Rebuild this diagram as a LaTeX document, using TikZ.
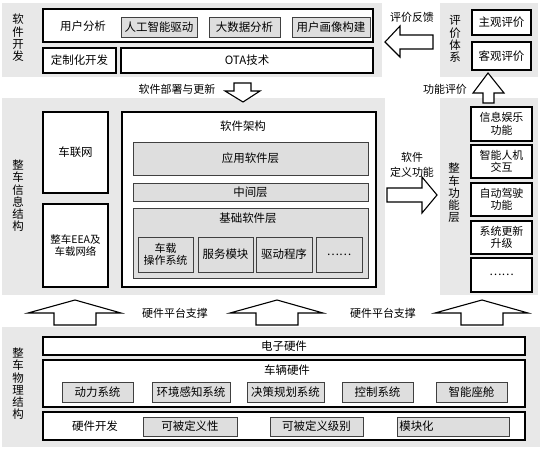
\documentclass[tikz,border=0pt]{standalone}
\usepackage{fontspec}
\setmainfont{Noto Sans CJK SC}
\usetikzlibrary{fit}
\definecolor{panelgray}{HTML}{E8E8E8}
\definecolor{boxgray}{HTML}{DEDEDE}
\begin{document}
\begin{tikzpicture}[x = 1bp, y = -1bp, % pixel units, y down
                font = \fontsize{11.5}{12}\selectfont,
                semithick % line style
            ]

            \tikzstyle{panel}=[fill = panelgray, draw = none]
            \tikzstyle{wbox}=[draw = black, line width = 1.5pt, fill = white,
            inner sep = 0pt]
            \tikzstyle{gbox}=[draw = black!75, line width = 0.8pt, fill = boxgray,
            inner sep = 0pt]
            \tikzstyle{twoline}=[align = center, font = \fontsize{11}{12.5}\selectfont]
            \tikzstyle{vlbl}=[align = center, inner sep = 0pt,
            font = \fontsize{11.5}{12.3}\selectfont]
            \tikzstyle{albl}=[inner sep = 0pt, font = \fontsize{11}{13}\selectfont,
            align = center]
            \tikzstyle{blk}=[draw = black, line width = 1.1pt, fill = white,
            line join = miter]

            \useasboundingbox (0,0) rectangle (545,455);

            % background panels
            \fill[panel] (2,3) rectangle (382,77);
            \fill[panel] (440,3) rectangle (538,77);
            \fill[panel] (2,98) rectangle (385,295);
            \fill[panel] (440,98) rectangle (538,295);
            \fill[panel] (2,327) rectangle (540,447);

            % software development (texts as centre labels: fit eats the text box)
            \node[vlbl] (rjkf) at (18,38) {软\\件\\开\\发};
            \node[wbox, fit={(43,9) (373,42)}] (row1) {};
            \node[inner sep = 0pt] (yhfx) at (83,26) {用户分析};
            \node[gbox, fit={(121,17) (197,37)}, label={center:人工智能驱动}] (rgzn) {};
            \node[gbox, fit={(209,17) (280,37)}, label={center:大数据分析}] (dsj) {};
            \node[gbox, fit={(292,17) (370,37)}, label={center:用户画像构建}] (yhhx) {};
            \node[wbox, fit={(43,48) (116,73)}, label={center:定制化开发}] (dzh) {};
            \node[wbox, fit={(121,48) (373,73)}, label={center:OTA技术}] (ota) {};

            % evaluation system
            \node[vlbl] (pjtx) at (455,39) {评\\价\\体\\系};
            \node[wbox, fit={(472,10) (531,35)}, label={center:主观评价}] (zgpj) {};
            \node[wbox, fit={(472,42) (531,70)}, label={center:客观评价}] (kgpj) {};

            % vehicle information structure
            \node[vlbl] (xxjg) at (18,196) {整\\车\\信\\息\\结\\构};
            \node[wbox, fit={(43,112) (108,193)}, label={center:车联网}] (clw) {};
            \node[wbox, fit={(43,204) (108,287)}, label={[align = center,
            font = \fontsize{10.5}{13}\selectfont]center:整车EEA及\\车载网络}] (eea) {};
            \node[wbox, fit={(122,112) (376,287)}] (rjjg) {};
            \node[inner sep = 0pt] (rjjgt) at (243,126) {软件架构};
            \node[gbox, fit={(133,142) (368,175)}, label={center:应用软件层}] (yyrj) {};
            \node[gbox, fit={(133,183) (368,201)}, label={center:中间层}] (zjc) {};
            \node[gbox, fit={(133,208) (368,278)}] (jcrj) {};
            \node[inner sep = 0pt] (jcrjt) at (248,218) {基础软件层};
            \node[gbox, fit={(138,237) (193,272)}, label={[twoline]center:车载\\操作系统}] (czxt) {};
            \node[gbox, fit={(198,237) (253,272)}, label={center:服务模块}] (fwmk) {};
            \node[gbox, fit={(256,237) (312,272)}, label={center:驱动程序}] (qdcx) {};
            \node[gbox, fit={(316,237) (362,272)}, label={center:……}] (dots1) {};

            % vehicle function layer
            \node[vlbl] (gnc) at (454,193) {整\\车\\功\\能\\层};
            \node[wbox, fit={(471,107) (532,141)}, label={[twoline]center:信息娱乐\\功能}] (xxyl) {};
            \node[wbox, fit={(471,145) (532,178)}, label={[twoline]center:智能人机\\交互}] (rjjh) {};
            \node[wbox, fit={(471,183) (532,216)}, label={[twoline]center:自动驾驶\\功能}] (zdjs) {};
            \node[wbox, fit={(471,221) (532,254)}, label={[twoline]center:系统更新\\升级}] (xtgx) {};
            \node[wbox, fit={(471,258) (532,292)}, label={center:……}] (dots2) {};

            % vehicle physical structure
            \node[vlbl] (wljg) at (18,384) {整\\车\\物\\理\\结\\构};
            \node[wbox, fit={(43,337) (525,355)}, label={center:电子硬件}] (dzyj) {};
            \node[wbox, fit={(43,360) (525,407)}] (clyj) {};
            \node[inner sep = 0pt] (clyjt) at (287,370) {车辆硬件};
            \node[gbox, fit={(62,382) (133,402)}, label={center:动力系统}] (dlxt) {};
            \node[gbox, fit={(152,382) (230,402)}, label={center:环境感知系统}] (hjgz) {};
            \node[gbox, fit={(247,382) (324,402)}, label={center:决策规划系统}] (jcgh) {};
            \node[gbox, fit={(342,382) (413,402)}, label={center:控制系统}] (kzxt) {};
            \node[gbox, fit={(436,382) (507,402)}, label={center:智能座舱}] (znzc) {};
            \node[wbox, fit={(43,412) (525,440)}] (yjkf) {};
            \node[inner sep = 0pt] (yjkft) at (95,426) {硬件开发};
            \node[gbox, fit={(143,417) (237,436)}, label={center:可被定义性}] (kbdy) {};
            \node[gbox, fit={(270,417) (363,436)}, label={center:可被定义级别}] (kbjb) {};
            \node[gbox, fit={(397,417) (509,436)}] (mkh) {};
            \node[inner sep = 0pt, anchor = west] (mkht) at (399,426) {模块化};

            % block arrows
            \draw[blk] (234,83) -- (251,83) -- (251,91) -- (260,91) -- (243,102)
            -- (225,91) -- (234,91) -- cycle;
            \draw[blk] (433,35) -- (400,35) -- (400,26) -- (385,42) -- (400,57)
            -- (400,49) -- (433,49) -- cycle;
            \draw[blk] (483,103) -- (483,93) -- (473,93) -- (488,73) -- (504,93)
            -- (494,93) -- (494,103) -- cycle;
            \draw[blk] (387,188) -- (422,188) -- (422,177) -- (437,195) -- (422,213)
            -- (422,202) -- (387,202) -- cycle;
            \foreach \cx in {75, 277, 482}
                \draw[blk] (\cx-21,325) -- (\cx-21,313) -- (\cx-47,313) -- (\cx,300)
                -- (\cx+46,313) -- (\cx+21,313) -- (\cx+21,325) -- cycle;

            % arrow labels
            \node[albl] (bsgx) at (177,89) {软件部署与更新};
            \node[albl] (pjfk) at (412,17) {评价反馈};
            \node[albl] (gnpj) at (445,89) {功能评价};
            \node[albl, font = \fontsize{11}{14.5}\selectfont] (dygn) at (412,165) {软件\\定义功能};
            \node[albl] (yjzc1) at (175,313) {硬件平台支撑};
            \node[albl] (yjzc2) at (383,313) {硬件平台支撑};
\end{tikzpicture}
\end{document}
